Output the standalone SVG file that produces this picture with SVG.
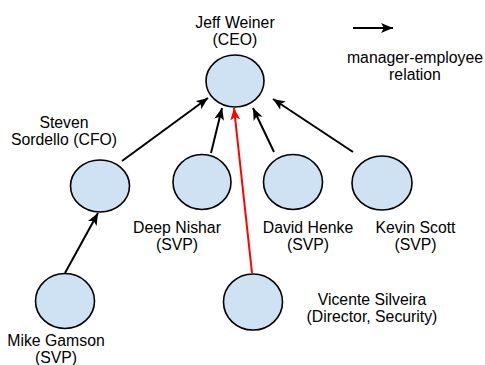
<svg xmlns="http://www.w3.org/2000/svg" width="485" height="365" viewBox="0 0 485 365">
<style>
.node ellipse{fill:#cfe2f3;stroke:#000;stroke-width:1.6}
text{font-family:"Liberation Sans",Arial,sans-serif;font-size:15.8px;fill:#000;text-anchor:middle}
.edge{stroke:#000;stroke-width:2;fill:none;marker-end:url(#ah)}
.edge.red{stroke:#ff0000;marker-end:url(#ahr)}
</style>
<defs>
<marker id="ah" markerUnits="userSpaceOnUse" markerWidth="13" markerHeight="10" refX="12" refY="5" orient="auto" viewBox="0 0 13 10">
<path d="M0,0 L12,5 L0,10 L3,5 z" fill="#000"/>
</marker>
<marker id="ahr" markerUnits="userSpaceOnUse" markerWidth="13" markerHeight="10" refX="12" refY="5" orient="auto" viewBox="0 0 13 10">
<path d="M0,0 L12,5 L0,10 L3,5 z" fill="#ff0000"/>
</marker>
</defs>
<g id="connectors">
<line class="edge" x1="122" y1="161" x2="208" y2="98"/>
<line class="edge" x1="211" y1="153" x2="222" y2="108"/>
<line class="edge red" x1="252" y1="273" x2="234" y2="108"/>
<line class="edge" x1="274" y1="152" x2="253" y2="108"/>
<line class="edge" x1="353" y1="152" x2="273" y2="99"/>
<line class="edge" x1="65" y1="273" x2="98" y2="213"/>
</g>
<g id="legend">
<line class="edge" x1="353" y1="28" x2="393" y2="28"/>
<text x="415" y="63">manager-employee</text>
<text x="415" y="80">relation</text>
</g>
<g id="jeff" class="node">
<ellipse cx="235" cy="81" rx="29" ry="26"/>
<text x="235" y="28">Jeff Weiner</text>
<text x="235" y="45">(CEO)</text>
</g>
<g id="steven" class="node">
<ellipse cx="100" cy="186" rx="29.5" ry="26"/>
<text x="64" y="128">Steven</text>
<text x="64" y="145">Sordello (CFO)</text>
</g>
<g id="deep" class="node">
<ellipse cx="202" cy="182" rx="29" ry="27.5"/>
<text x="177" y="233">Deep Nishar</text>
<text x="177" y="250">(SVP)</text>
</g>
<g id="david" class="node">
<ellipse cx="293" cy="182" rx="29.5" ry="27.5"/>
<text x="308" y="233">David Henke</text>
<text x="308" y="250">(SVP)</text>
</g>
<g id="kevin" class="node">
<ellipse cx="382" cy="183" rx="30" ry="27"/>
<text x="415.5" y="233">Kevin Scott</text>
<text x="415.5" y="250">(SVP)</text>
</g>
<g id="mike" class="node">
<ellipse cx="65" cy="301" rx="29.5" ry="27.5"/>
<text x="56" y="346">Mike Gamson</text>
<text x="56" y="363">(SVP)</text>
</g>
<g id="vicente" class="node">
<ellipse cx="253" cy="302" rx="29.5" ry="28"/>
<text x="372" y="305">Vicente Silveira</text>
<text x="372" y="322">(Director, Security)</text>
</g>
</svg>
